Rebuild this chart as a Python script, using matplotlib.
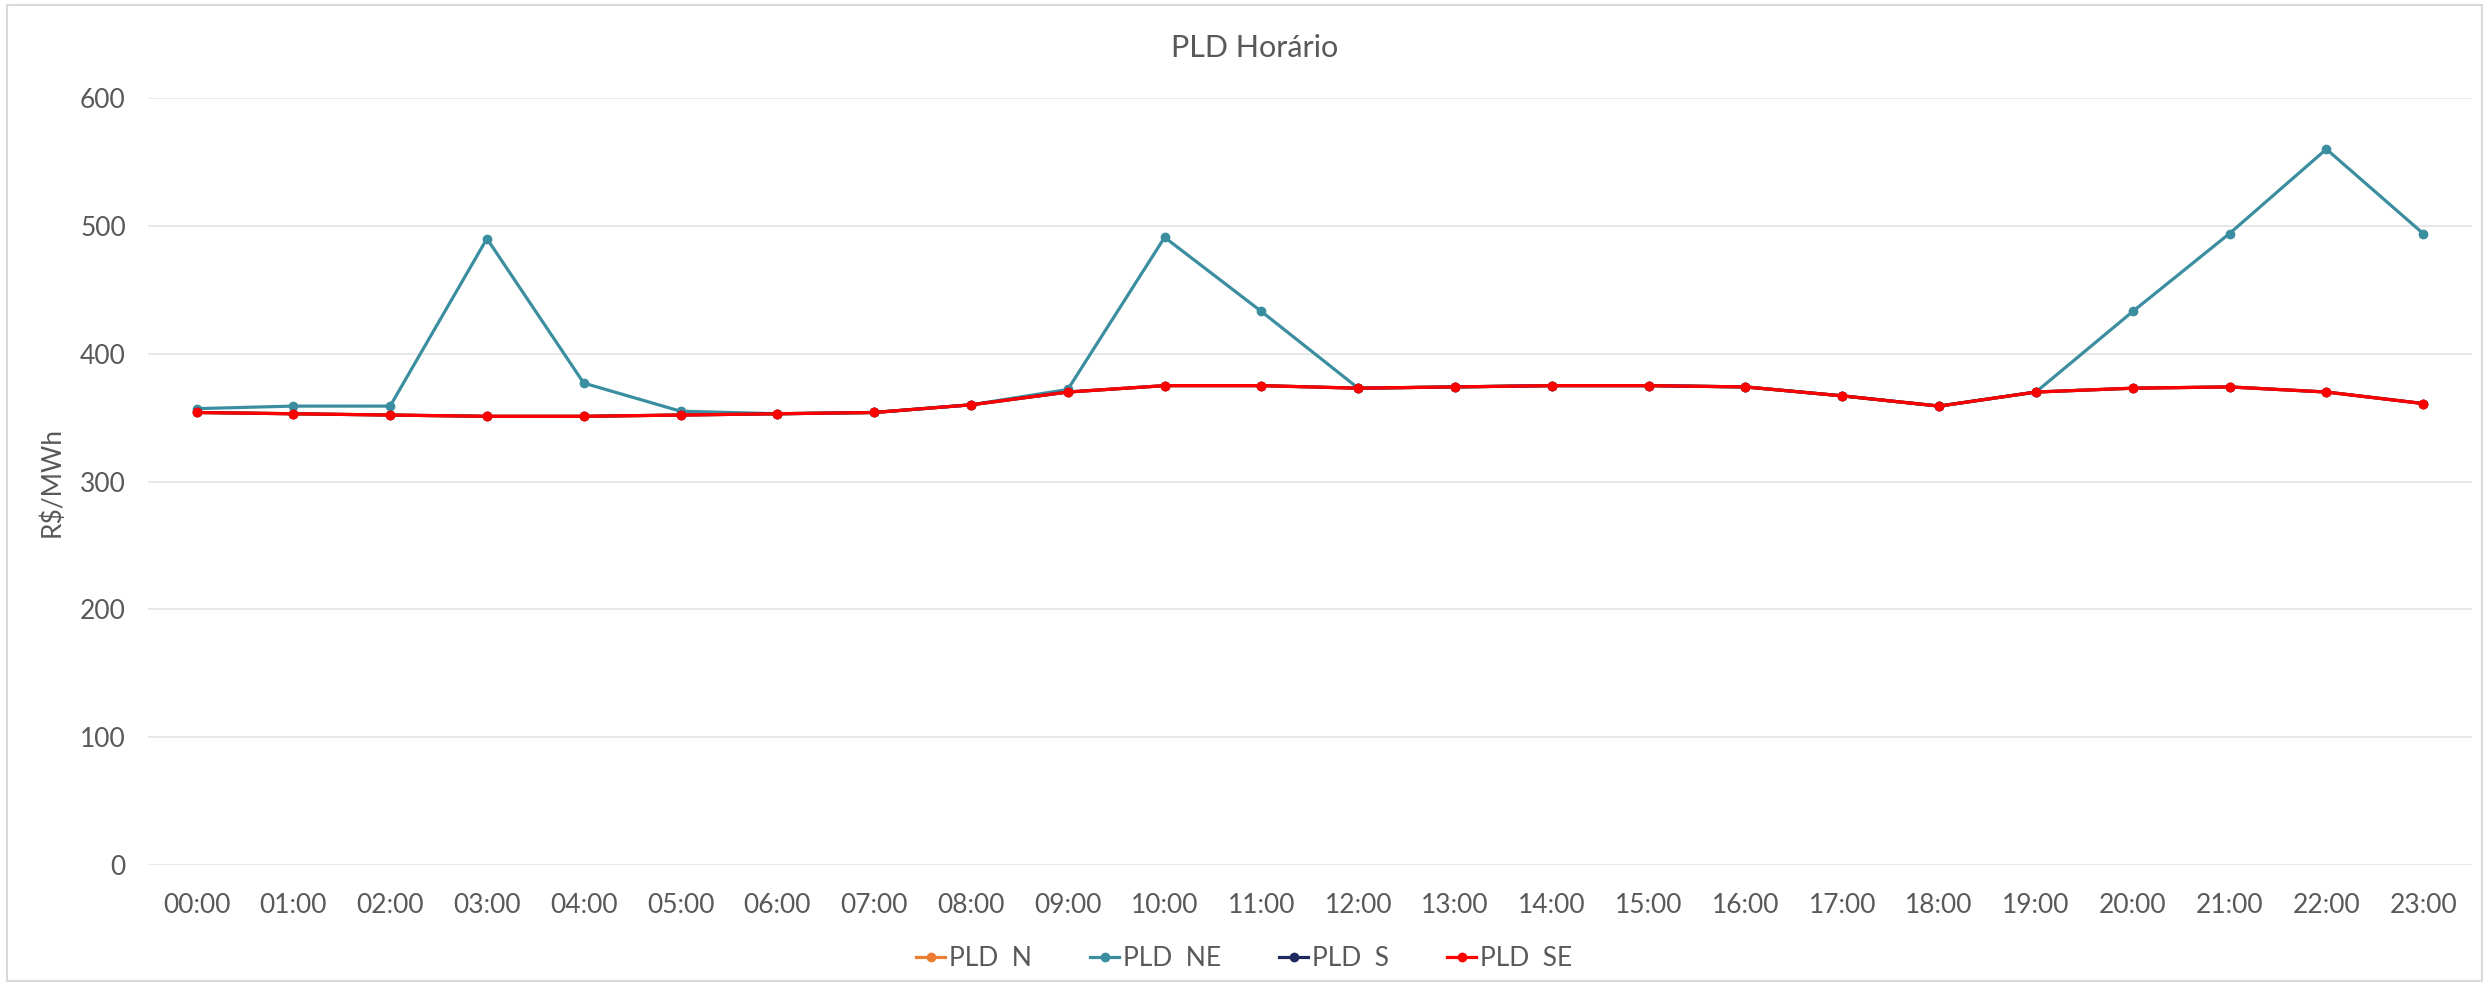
import matplotlib
matplotlib.use("Agg")
import matplotlib.pyplot as plt
from matplotlib.patches import Rectangle

plt.rcParams['font.family'] = ['Lato', 'DejaVu Sans']

hours = ["00:00", "01:00", "02:00", "03:00", "04:00", "05:00", "06:00", "07:00",
         "08:00", "09:00", "10:00", "11:00", "12:00", "13:00", "14:00", "15:00",
         "16:00", "17:00", "18:00", "19:00", "20:00", "21:00", "22:00", "23:00"]

pld_se = [354, 353, 352, 351, 351, 352, 353, 354, 360, 370, 375, 375,
          373, 374, 375, 375, 374, 367, 359, 370, 373, 374, 370, 361]
pld_s = [354, 353, 352, 351, 351, 352, 353, 354, 360, 370, 375, 375,
         373, 374, 375, 375, 374, 367, 359, 370, 373, 374, 370, 361]
pld_n = [354, 353, 352, 351, 351, 352, 353, 354, 360, 370, 375, 375,
         373, 374, 375, 375, 374, 367, 359, 370, 373, 374, 370, 361]
pld_ne = [357, 359, 359, 490, 377, 355, 353, 354, 360, 372, 491, 433,
          373, 374, 375, 375, 374, 367, 359, 370, 433, 494, 560, 494]

series = [
    ("PLD  N", pld_n, "#ED7D31"),
    ("PLD  NE", pld_ne, "#3B8E9F"),
    ("PLD  S", pld_s, "#1F2A5E"),
    ("PLD  SE", pld_se, "#FF0000"),
]

text_color = "#595959"

fig = plt.figure(figsize=(24.89, 9.85), dpi=100)
ax = fig.add_axes([0.0595, 0.1218, 0.9335, 0.7787])

x = list(range(len(hours)))
for name, values, color in series:
    ax.plot(x, values, color=color, linewidth=2.3, marker="o", markersize=6,
            label=name)

ax.set_xlim(-0.5, len(hours) - 0.5)
ax.set_ylim(0, 600)
ax.set_yticks(range(0, 601, 100))
ax.set_xticks(x)
ax.set_xticklabels(hours)
ax.tick_params(axis="x", length=0, labelsize=19, colors=text_color, pad=20)
ax.tick_params(axis="y", length=0, labelsize=19, colors=text_color, pad=16)
ax.yaxis.grid(True, color="#E6E6E6", linewidth=1.3)
ax.set_axisbelow(True)
for spine in ax.spines.values():
    spine.set_visible(False)

ax.set_ylabel("R$/MWh", fontsize=19, color=text_color, labelpad=11)
fig.text(0.504, 0.951, "PLD Horário", ha="center", va="center",
         fontsize=22, color=text_color)

fig.legend(loc="center", bbox_to_anchor=(0.5, 0.027),
           ncol=4, frameon=False, fontsize=19, handlelength=1.1,
           handletextpad=0.15, columnspacing=2.2, labelcolor=text_color)

# thin frame around the whole chart area
fig.patches.append(Rectangle((0.003, 0.004), 0.994, 0.991, transform=fig.transFigure,
                             fill=False, edgecolor="#D9D9D9", linewidth=1.5))

fig.savefig("out.png", dpi=100, facecolor="white")
